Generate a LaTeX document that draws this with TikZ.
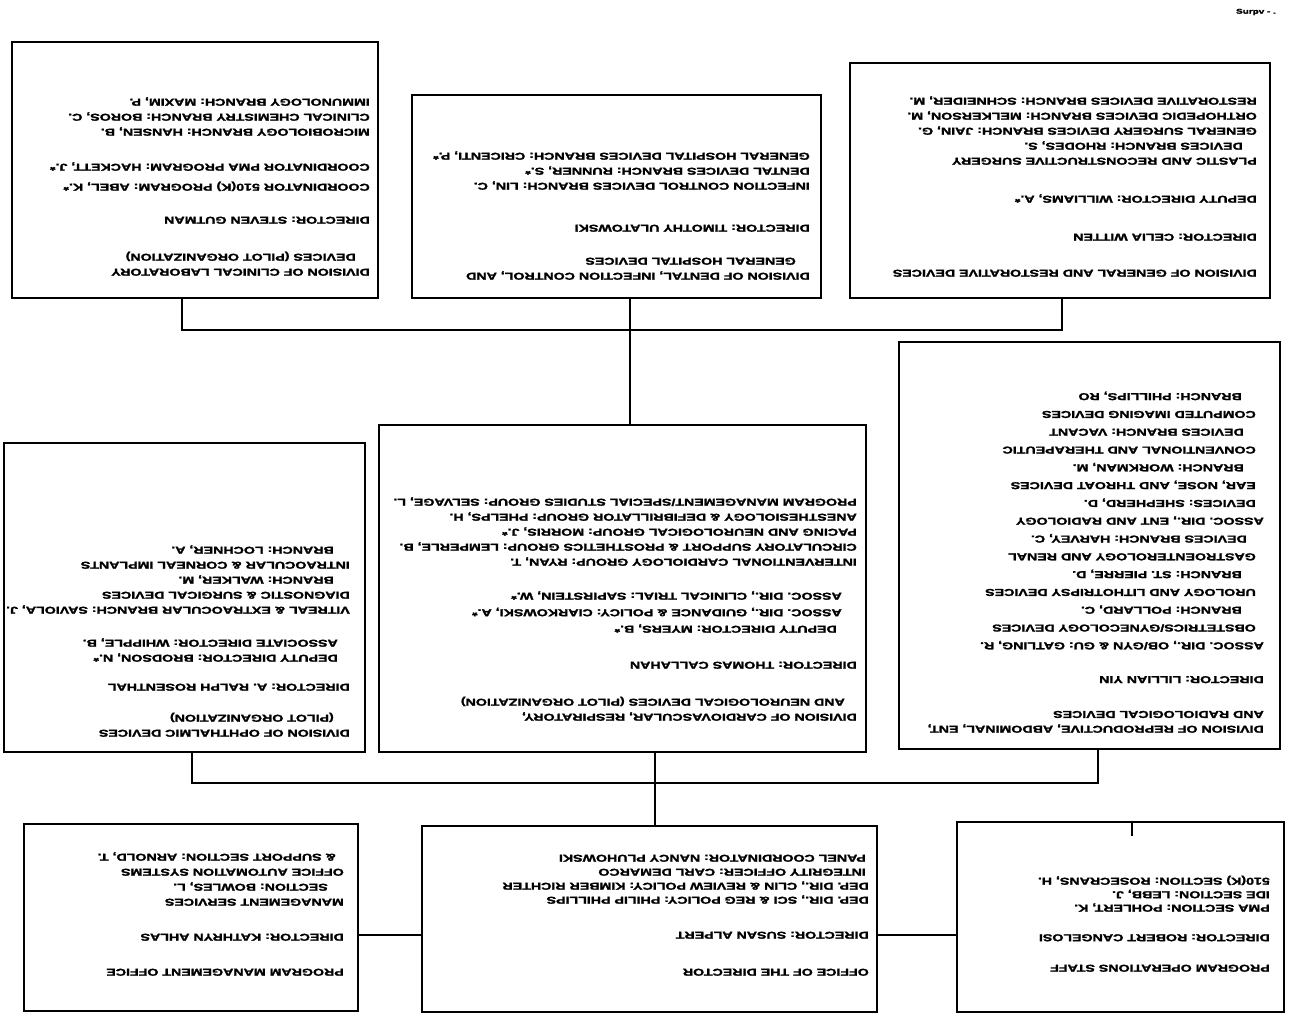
\documentclass[tikz,border=0pt]{standalone}
\usepackage{fontspec}
\setmainfont{Liberation Sans}[FakeStretch=1.42, BoldFeatures={FakeBold=2}]

\tikzset{
  unit/.style={draw, line width=2.6pt, inner sep=0pt},
  txt/.style={rotate=180, anchor=north west, align=left, inner sep=0pt,
    font=\fontsize{10}{15}\selectfont\bfseries},
  link/.style={line width=2.4pt}
}

\begin{document}
\begin{tikzpicture}[x=1pt,y=-1pt]
\useasboundingbox (0,0) rectangle (1289,1023);

% top row
\node[unit, minimum width=366, minimum height=256] (clinlab) at (195,170) {};
\node[unit, minimum width=409, minimum height=203] (dental) at (616.5,196.5) {};
\node[unit, minimum width=420, minimum height=235] (gensurg) at (1060,180.5) {};

\node[txt] (clinlab-t) at (370,276) {DIVISION OF CLINICAL LABORATORY\\
  \hspace*{14pt}DEVICES (PILOT ORGANIZATION)\\[22pt]
  DIRECTOR: STEVEN GUTMAN\\[18pt]
  COORDINATOR 510(K) PROGRAM: ABEL, K.*\\[5pt]
  COORDINATOR PMA PROGRAM: HACKETT, J.*\\[20pt]
  MICROBIOLOGY BRANCH: HANSEN, B.\\
  CLINICAL CHEMISTRY BRANCH: BOROS, C.\\
  IMMUNOLOGY BRANCH: MAXIM, P.};

\node[txt] (dental-t) at (810,280) {DIVISION OF DENTAL, INFECTION CONTROL, AND\\
  \hspace*{14pt}GENERAL HOSPITAL DEVICES\\[18pt]
  DIRECTOR: TIMOTHY ULATOWSKI\\[27pt]
  INFECTION CONTROL DEVICES BRANCH: LIN, C.\\
  DENTAL DEVICES BRANCH: RUNNER, S.*\\
  GENERAL HOSPITAL DEVICES BRANCH: CRICENTI, P.*};

\node[txt] (gensurg-t) at (1257,277) {DIVISION OF GENERAL AND RESTORATIVE DEVICES\\[21pt]
  DIRECTOR: CELIA WITTEN\\[23pt]
  DEPUTY DIRECTOR: WILLIAMS, A.*\\[23pt]
  PLASTIC AND RECONSTRUCTIVE SURGERY\\
  \hspace*{14pt}DEVICES BRANCH: RHODES, S.\\
  GENERAL SURGERY DEVICES BRANCH: JAIN, G.\\
  ORTHOPEDIC DEVICES BRANCH: MELKERSON, M.\\
  RESTORATIVE DEVICES BRANCH: SCHNEIDER, M.};

% middle row
\node[unit, minimum width=361, minimum height=309] (ophth) at (184.5,597.5) {};
\node[unit, minimum width=487, minimum height=327] (cardio) at (622.5,588.5) {};
\node[unit, minimum width=381, minimum height=407] (radio) at (1089.5,545.5) {};

\node[txt] (ophth-t) at (350,737) {DIVISION OF OPHTHALMIC DEVICES\\
  \hspace*{16pt}(PILOT ORGANIZATION)\\[16pt]
  DIRECTOR: A. RALPH ROSENTHAL\\[14pt]
  \hspace*{12pt}DEPUTY DIRECTOR: BRODSON, N.*\\
  \hspace*{12pt}ASSOCIATE DIRECTOR: WHIPPLE, B.\\[18pt]
  VITREAL \& EXTRAOCULAR BRANCH: SAVIOLA, J.\\
  DIAGNOSTIC \& SURGICAL DEVICES\\
  \hspace*{16pt}BRANCH: WALKER, M.\\
  INTRAOCULAR \& CORNEAL IMPLANTS\\
  \hspace*{16pt}BRANCH: LOCHNER, A.};

\node[txt] (cardio-t) at (857,721) {DIVISION OF CARDIOVASCULAR, RESPIRATORY,\\
  \hspace*{12pt}AND NEUROLOGICAL DEVICES (PILOT ORGANIZATION)\\[22pt]
  DIRECTOR: THOMAS CALLAHAN\\[21pt]
  \hspace*{20pt}DEPUTY DIRECTOR: MYERS, B.*\\[1.5pt]
  \hspace*{15pt}ASSOC. DIR., GUIDANCE \& POLICY: CIARKOWSKI, A.*\\[1.5pt]
  \hspace*{15pt}ASSOC. DIR., CLINICAL TRIAL: SAPIRSTEIN, W.*\\[19pt]
  INTERVENTIONAL CARDIOLOGY GROUP: RYAN, T.\\
  CIRCULATORY SUPPORT \& PROSTHETICS GROUP: LEMPERLE, B.\\
  PACING AND NEUROLOGICAL GROUP: MORRIS, J.*\\
  ANESTHESIOLOGY \& DEFIBRILLATOR GROUP: PHELPS, H.\\
  PROGRAM MANAGEMENT/SPECIAL STUDIES GROUP: SELVAGE, L.};

\node[txt, font=\fontsize{10}{17.8}\selectfont\bfseries] (radio-t) at (1264,733) {DIVISION OF REPRODUCTIVE, ABDOMINAL, ENT,\\[-3pt]
  AND RADIOLOGICAL DEVICES\\[17pt]
  DIRECTOR: LILLIAN YIN\\[16pt]
  ASSOC. DIR., OB/GYN \& GU: GATLING, R.\\
  \hspace*{8pt}OBSTETRICS/GYNECOLOGY DEVICES\\
  \hspace*{22pt}BRANCH: POLLARD, C.\\
  \hspace*{8pt}UROLOGY AND LITHOTRIPSY DEVICES\\
  \hspace*{22pt}BRANCH: ST. PIERRE, D.\\
  \hspace*{8pt}GASTROENTEROLOGY AND RENAL\\
  \hspace*{17pt}DEVICES BRANCH: HARVEY, C.\\
  ASSOC. DIR., ENT AND RADIOLOGY\\
  \hspace*{8pt}DEVICES: SHEPHERD, D.\\
  \hspace*{8pt}EAR, NOSE, AND THROAT DEVICES\\
  \hspace*{20pt}BRANCH: WORKMAN, M.\\
  \hspace*{8pt}CONVENTIONAL AND THERAPEUTIC\\
  \hspace*{20pt}DEVICES BRANCH: VACANT\\
  \hspace*{8pt}COMPUTED IMAGING DEVICES\\
  \hspace*{22pt}BRANCH: PHILLIPS, RO};

% bottom row
\node[unit, minimum width=334, minimum height=187] (pmo) at (191,917.5) {};
\node[unit, minimum width=455, minimum height=186] (director) at (649.5,919) {};
\node[unit, minimum width=327, minimum height=190] (ops) at (1120.5,917) {};

\node[txt] (pmo-t) at (344,976) {PROGRAM MANAGEMENT OFFICE\\[20pt]
  DIRECTOR: KATHRYN AHLAS\\[20pt]
  MANAGEMENT SERVICES\\
  \hspace*{16pt}SECTION: BOWLES, L.\\
  OFFICE AUTOMATION SYSTEMS\\
  \hspace*{8pt}\& SUPPORT SECTION: ARNOLD, T.};

\node[txt, font=\fontsize{10}{14}\selectfont\bfseries] (director-t) at (869,976) {OFFICE OF THE DIRECTOR\\[23pt]
  DIRECTOR: SUSAN ALPERT\\[21pt]
  DEP. DIR., SCI \& REG POLICY: PHILIP PHILLIPS\\
  DEP. DIR., CLIN \& REVIEW POLICY: KIMBER RICHTER\\
  \hspace*{3pt}INTEGRITY OFFICER: CARL DEMARCO\\
  \hspace*{3pt}PANEL COORDINATOR: NANCY PLUHOWSKI};

\node[txt, font=\fontsize{10}{13.5}\selectfont\bfseries] (ops-t) at (1270,972) {PROGRAM OPERATIONS STAFF\\[17pt]
  DIRECTOR: ROBERT CANGELOSI\\[16pt]
  PMA SECTION: POHLERT, K.\\
  IDE SECTION: LEBB, J.\\
  510(K) SECTION: ROSECRANS, H.};

\node[font=\scriptsize\bfseries] (note) at (1256,12) {Surpv - .};

% connectors
\coordinate (topbus-l) at (182,330);
\coordinate (topbus-c) at (630,330);
\coordinate (topbus-r) at (1062,330);
\coordinate (midbus-l) at (192,783);
\coordinate (midbus-c) at (655,783);
\coordinate (midbus-r) at (1098,783);
\coordinate (botline) at (0,935);
\coordinate (ops-stub) at (1132,836);

\draw[link] (clinlab.south -| topbus-l) -- (topbus-l) -- (topbus-r) -- (gensurg.south -| topbus-r);
\draw[link] (dental.south -| topbus-c) -- (cardio.north -| topbus-c);
\draw[link] (ophth.south -| midbus-l) -- (midbus-l) -- (midbus-r) -- (radio.south -| midbus-r);
\draw[link] (cardio.south -| midbus-c) -- (director.north -| midbus-c);
\draw[link] (pmo.east |- botline) -- (director.west |- botline);
\draw[link] (director.east |- botline) -- (ops.west |- botline);
\draw[link] (ops.north -| ops-stub) -- (ops-stub);
\end{tikzpicture}
\end{document}
